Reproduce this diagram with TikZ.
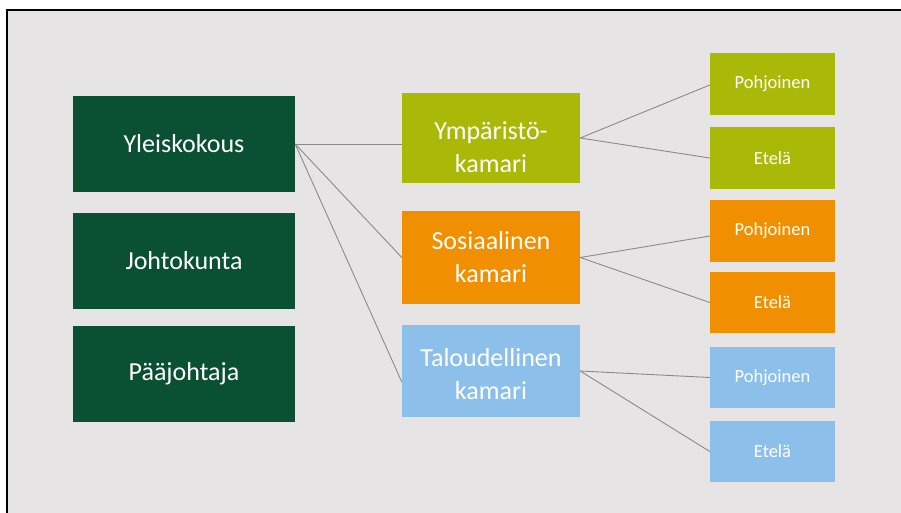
\documentclass[tikz,border=0pt]{standalone}
\usepackage{fontspec}
\setmainfont{Carlito}
\definecolor{bgc}{HTML}{E6E4E4}
\definecolor{dgreen}{HTML}{0A5032}
\definecolor{lime}{HTML}{AAB808}
\definecolor{orng}{HTML}{F09000}
\definecolor{lblue}{HTML}{8CC0EA}
\definecolor{linec}{HTML}{8A8A8A}
\tikzset{
  x=1pt, y=-1pt,
  box/.style={rectangle, inner sep=0pt, text=white, align=center},
  bigtxt/.style={box, font=\fontsize{26}{33}\selectfont},
  bigbox/.style={bigtxt},
  smallbox/.style={box, font=\fontsize{18.5}{22}\selectfont, minimum width=125pt, minimum height=61pt},
  conn/.style={draw=linec, line width=0.9pt}
}
\begin{document}
\begin{tikzpicture}
\useasboundingbox (0,0) rectangle (901,513);
\fill[white] (0,0) rectangle (901,513);
\fill[bgc] (7,10) rectangle (901,513);
\draw[black, line width=2.2pt] (7,513) -- (7,10) -- (901,10);

% left column
\node[bigbox, fill=dgreen, minimum width=222pt, minimum height=96pt] (yk) at (184,144) {Yleiskokous};
\node[bigbox, fill=dgreen, minimum width=222pt, minimum height=96pt] (jk) at (184,261) {Johtokunta};
\node[bigbox, fill=dgreen, minimum width=222pt, minimum height=96pt] (pj) at (184,374) {Pääjohtaja};

% middle column
\node[bigbox, fill=lime, minimum width=178pt, minimum height=90pt] (ymp) at (491,138) {};
\node[bigtxt] (ymptxt) at ([yshift=-9pt]ymp.center) {Ympäristö-\\kamari};
\node[bigbox, fill=orng, minimum width=178pt, minimum height=93pt] (sos) at (491,257.5) {Sosiaalinen\\kamari};
\node[bigbox, fill=lblue, minimum width=178pt, minimum height=92pt] (talo) at (491,371) {};
\node[bigtxt] (talotxt) at ([yshift=-3pt]talo.center) {Taloudellinen\\kamari};

% right column
\node[smallbox, fill=lime, minimum height=62pt] (p1) at (772.5,84) {Pohjoinen};
\node[smallbox, fill=lime, minimum height=62pt] (e1) at (772.5,158) {Etelä};
\node[smallbox, fill=orng, minimum height=62pt] (p2) at (772.5,231) {Pohjoinen};
\node[smallbox, fill=orng] (e2) at (772.5,302.5) {Etelä};
\node[smallbox, fill=lblue] (p3) at (772.5,377.5) {Pohjoinen};
\node[smallbox, fill=lblue] (e3) at (772.5,451.5) {Etelä};

% connectors
\draw[conn] (yk.east) -- (yk.east -| ymp.west);
\draw[conn] (yk.east) -- (sos.west);
\draw[conn] (yk.east) -- ([yshift=-11pt]talo.west);
\draw[conn] (ymp.east) -- ([yshift=-1pt]p1.west);
\draw[conn] (ymp.east) -- (e1.west);
\draw[conn] (sos.east) -- ([yshift=-5pt]p2.west);
\draw[conn] (sos.east) -- (e2.west);
\draw[conn] (talo.east) -- (p3.west);
\draw[conn] (talo.east) -- (e3.west);
\end{tikzpicture}
\end{document}
